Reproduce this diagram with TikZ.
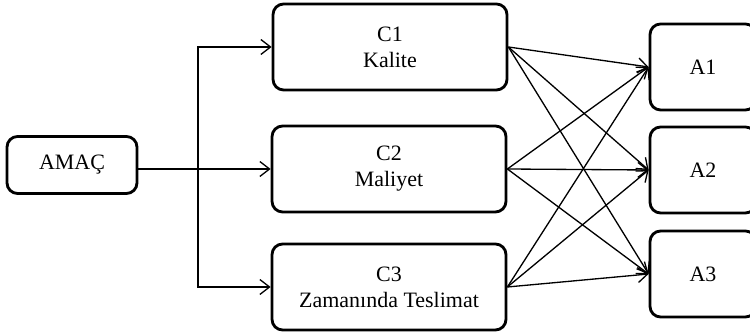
\documentclass[tikz,border=0pt]{standalone}
\usepackage{fontspec}
\setmainfont{Liberation Serif}
\usetikzlibrary{
    arrows.meta
}
\tikzset {
    box/.style = {
        draw,
        rounded corners = 6pt,
        line width = 1.6pt,
        align = center,
        inner sep = 0pt,
        font = \fontsize{12.5}{14.8}\selectfont
    },
    small box/.style = {box, minimum width = 2.6cm, minimum height = 1.14cm},
    crit box/.style = {box, minimum width = 4.68cm, minimum height = 1.72cm},
    alt box/.style = {box, minimum width = 2.12cm, minimum height = 1.72cm},
    %
    link/.style = {
        line width = 0.75pt,
        arrows = {-Straight Barb[length = 5.5pt, width = 8.5pt]}
    }
}

\begin{document}
\begin{tikzpicture}[x = 0.02cm, y = -0.02cm]
    \useasboundingbox (0, 0) rectangle (750, 333);
    % goal
    \node (amac) [small box] at (72, 165) {AMAÇ};
    % criteria
    \node (c1) [crit box] at (390, 47) {C1\\Kalite};
    \node (c2) [crit box] at (389, 169) {C2\\Maliyet};
    \node (c3) [crit box] at (389, 287) {C3\\Zamanında Teslimat};
    % alternatives (cut off at the right edge)
    \node (a1) [alt box] at (703, 67) {A1};
    \node (a2) [alt box] at (703, 170) {A2};
    \node (a3) [alt box] at (703, 274) {A3};
    %
    \coordinate (fork) at (198, 169);
    \draw [link] (amac.east |- c2.west) -- (c2.west);
    \draw [link] (fork) |- (c1.west);
    \draw [link] (fork) |- (c3.west);
    %
    \foreach \c in {c1, c2, c3} {
        \foreach \a in {a1, a2, a3} {
            \draw [link] (\c.east) -- (\a.west);
        }
    }
\end{tikzpicture}
\end{document}
